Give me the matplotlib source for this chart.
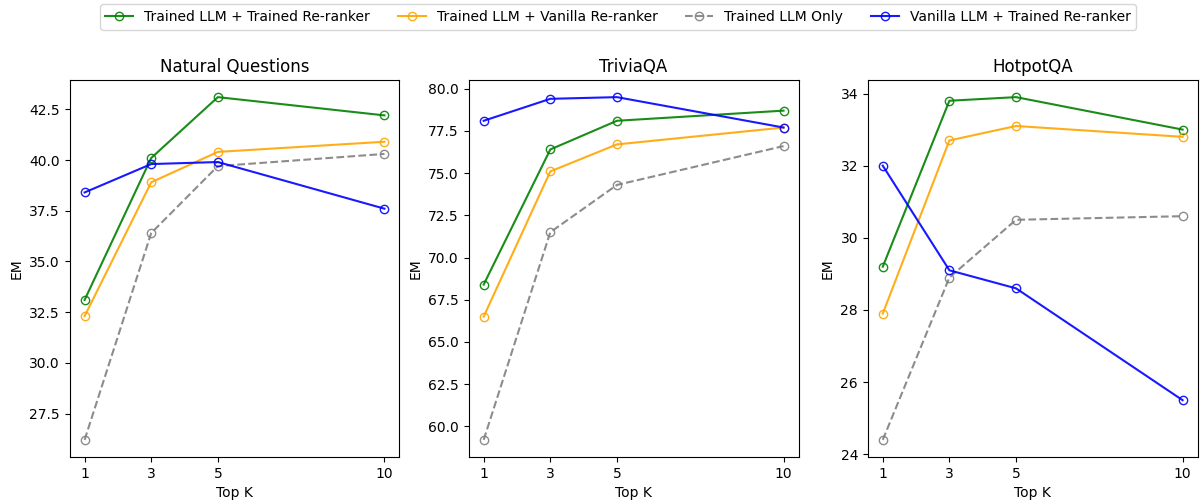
import matplotlib.pyplot as plt

top_k = [1, 3, 5, 10]
datasets = ['Natural Questions', 'TriviaQA', 'HotpotQA']

labels = ['Trained LLM + Trained Re-ranker', 'Trained LLM + Vanilla Re-ranker',
          'Trained LLM Only', 'Vanilla LLM + Trained Re-ranker']

# EM values per dataset, one list per series (same order as labels)
nq_vals = [
    [33.1, 40.1, 43.1, 42.2],
    [32.3, 38.9, 40.4, 40.9],
    [26.2, 36.4, 39.7, 40.3],
    [38.4, 39.8, 39.9, 37.6],
]
tqa_vals = [
    [68.4, 76.4, 78.1, 78.7],
    [66.5, 75.1, 76.7, 77.7],
    [59.2, 71.5, 74.3, 76.6],
    [78.1, 79.4, 79.5, 77.7],
]
hqa_vals = [
    [29.2, 33.8, 33.9, 33.0],
    [27.9, 32.7, 33.1, 32.8],
    [24.4, 28.9, 30.5, 30.6],
    [32.0, 29.1, 28.6, 25.5],
]

colors = ['green', 'orange', 'gray', 'blue']
styles = ['-', '-', '--', '-']

fig, axes = plt.subplots(1, 3, figsize=(12, 5))
fig.subplots_adjust(left=0.058, right=0.998, bottom=0.086, top=0.84, wspace=0.21)

for ax, name, vals in zip(axes, datasets, [nq_vals, tqa_vals, hqa_vals]):
    for i, series in enumerate(vals):
        ax.plot(top_k, series, marker='o', markerfacecolor='none', color=colors[i],
                linestyle=styles[i], alpha=0.9, label=labels[i])
    ax.set_title(name)
    ax.set_xlabel('Top K')
    ax.set_ylabel('EM')
    ax.set_xticks(top_k)

handles, leg_labels = axes[0].get_legend_handles_labels()
fig.legend(handles, leg_labels, loc='upper center', ncol=4, bbox_to_anchor=(0.515, 1.005))

plt.savefig('out.png', dpi=100)
